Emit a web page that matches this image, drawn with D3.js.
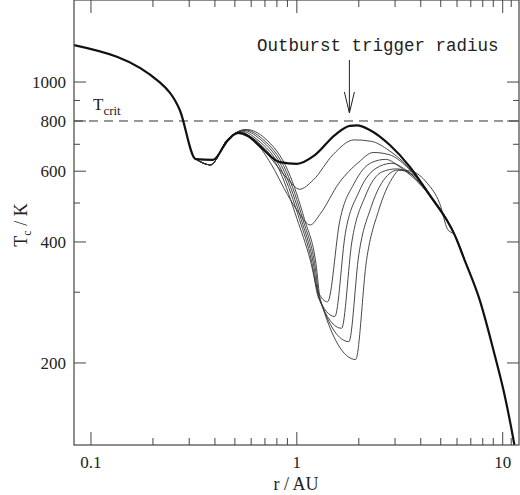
<!DOCTYPE html>
<html><head><meta charset="utf-8">
<script src="https://cdn.jsdelivr.net/npm/d3@7"></script>
<style>body{margin:0;background:#fff}</style></head>
<body><svg id="c" width="520" height="495"></svg>
<script>
const xTickLabels = [0.1, 1, 10];
const yTickLabels = [200, 400, 600, 800, 1000];
const yMinor = [300, 500, 700, 900];
const xMinor = [0.2,0.3,0.4,0.5,0.6,0.7,0.8,0.9,2,3,4,5,6,7,8,9,11];
const Tcrit = 800;
const triggerR = 1.8;

// final (thick) profile [r AU, T K]
const thick = [[0.0827,1236],[0.216,998],[0.270,852],[0.323,643],[0.391,640],[0.463,717],[0.517,747],[0.578,734],[0.676,685],[0.827,632],[1.0,626],[1.223,658],[1.53,738],[1.81,778],[1.96,780],[2.26,760],[2.83,697],[3.54,615],[4.42,523],[5.85,416],[6.54,360],[7.73,287],[9.15,209],[10.2,167],[11.06,136],[11.4,125]];
const startTail = [[0.323,643],[0.38,622],[0.46,718]];
const curveA = [[0.53,745],[0.62,722],[0.75,645],[0.9,575],[1.03,541],[1.2,570],[1.5,660],[1.9,718],[2.3,712],[2.8,676],[3.5,612],[4.4,523],[5.85,416],[6.54,360]];
const curveB = [[0.53,750],[0.62,716],[0.75,625],[0.9,525],[1.03,470],[1.16,441],[1.3,470],[1.6,560],[2.0,632],[2.35,668],[2.8,660],[3.5,608],[4.4,523],[5.85,416],[6.54,360]];
const curveD1 = [[0.53,752],[0.62,720],[0.83,598],[1.0,458],[1.16,362],[1.27,300],[1.41,284],[1.62,454],[1.9,560],[2.3,630],[2.7,642],[3.2,612],[4.4,523],[5.85,416],[6.54,360]];
const curveD2 = [[0.54,755],[0.64,720],[0.85,598],[1.03,455],[1.18,358],[1.27,292],[1.53,261],[1.72,420],[2.0,532],[2.4,608],[2.9,628],[3.3,610],[4.4,524],[5.85,416],[6.54,360]];
const curveD3 = [[0.55,758],[0.66,722],[0.87,598],[1.05,455],[1.2,356],[1.28,290],[1.65,244],[1.85,400],[2.15,520],[2.6,598],[3.05,608],[3.4,600],[4.4,525],[5.85,416],[6.54,360]];
const curveD4 = [[0.56,760],[0.68,722],[0.89,598],[1.07,455],[1.22,354],[1.29,289],[1.79,226],[2.0,372],[2.3,490],[2.75,585],[3.1,604],[3.6,592],[4.5,520],[5.85,416],[6.54,360]];
const curveD5 = [[0.57,762],[0.7,724],[0.91,598],[1.09,455],[1.24,352],[1.3,288],[1.93,204],[2.18,360],[2.5,480],[2.9,575],[3.16,604],[3.6,600],[4.3,560],[4.94,499],[5.4,430],[5.85,416],[6.54,360]];
const thinCurves = [curveA, curveB, curveD1, curveD2, curveD3, curveD4, curveD5];

const svg = d3.select('#c');
const L=74, R=519, T=0, B=445;
const x = d3.scaleLog().domain([0.0827, 12.0]).range([L, R]);
const y = d3.scaleLog().domain([125, 1600]).range([B, T]);
const line = d3.line().x(d=>x(d[0])).y(d=>y(d[1])).curve(d3.curveMonotoneX);
const font = "'Liberation Serif', serif";

svg.append('defs').append('clipPath').attr('id','cp').append('rect').attr('x',L).attr('y',T).attr('width',R-L).attr('height',B-T);
const g = svg.append('g').attr('clip-path','url(#cp)');

function seg(x1,y1,x2,y2){svg.append('line').attr('x1',x1).attr('y1',y1).attr('x2',x2).attr('y2',y2).style('stroke','#444').style('stroke-width','1px');}
xTickLabels.forEach(v=>{seg(x(v),B,x(v),B-13);seg(x(v),T,x(v),T+13);});
xMinor.forEach(v=>{seg(x(v),B,x(v),B-7);seg(x(v),T,x(v),T+7);});
yTickLabels.forEach(v=>{seg(L,y(v),L+12,y(v));seg(R,y(v),R-12,y(v));});
yMinor.forEach(v=>{seg(L,y(v),L+6,y(v));seg(R,y(v),R-6,y(v));});

svg.append('rect').attr('x',L).attr('y',T).attr('width',R-L).attr('height',B-T).attr('fill','none').attr('stroke','#444').attr('stroke-width',1.2);

xTickLabels.forEach(v=>svg.append('text').attr('x',x(v)).attr('y',468).attr('text-anchor','middle').attr('font-family',font).attr('font-size',17).attr('fill','#222').text(v));
yTickLabels.forEach(v=>svg.append('text').attr('x',L-8).attr('y',y(v)+6).attr('text-anchor','end').attr('font-family',font).attr('font-size',17).attr('fill','#222').text(v));

g.append('line').attr('x1',L).attr('x2',R).attr('y1',y(Tcrit)).attr('y2',y(Tcrit)).attr('stroke','#333').attr('stroke-width',1).attr('stroke-dasharray','9,6');

thinCurves.forEach(c=>g.append('path').attr('d',line(startTail.concat(c))).attr('fill','none').attr('stroke','#333').attr('stroke-width',0.9));
g.append('path').attr('d',line(thick)).attr('fill','none').attr('stroke','#111').attr('stroke-width',2.2);

const tc = svg.append('text').attr('x',93).attr('y',110).attr('font-family',font).attr('font-size',17).attr('fill','#222');
tc.append('tspan').text('T');
tc.append('tspan').attr('dy',5).attr('font-size',13).text('crit');
svg.append('text').attr('x',257).attr('y',51).attr('font-family',"'Liberation Mono', monospace").attr('font-size',17.5).attr('fill','#222').text('Outburst trigger radius');
const ax = x(triggerR);
svg.append('line').attr('x1',ax).attr('x2',ax).attr('y1',60).attr('y2',112).attr('stroke','#222');
svg.append('path').attr('d',`M${ax-5},92 L${ax},113 L${ax+5},92`).attr('fill','none').attr('stroke','#222');

svg.append('text').attr('x',296).attr('y',490).attr('text-anchor','middle').attr('font-family',font).attr('font-size',18).attr('fill','#222').text('r / AU');
const yl = svg.append('text').attr('transform','translate(27,225) rotate(-90)').attr('text-anchor','middle').attr('font-family',font).attr('font-size',18).attr('fill','#222');
yl.append('tspan').text('T');
yl.append('tspan').attr('dy',4).attr('font-size',12).text('c');
yl.append('tspan').attr('dy',-4).text(' / K');
</script></body></html>
